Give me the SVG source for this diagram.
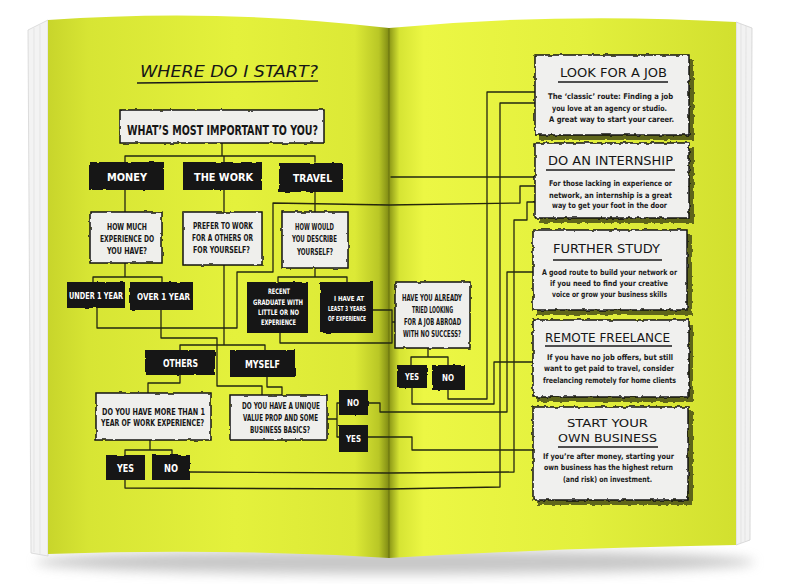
<svg xmlns="http://www.w3.org/2000/svg" width="790" height="584" viewBox="0 0 790 584">
<defs>
<linearGradient id="lp" x1="0" y1="0" x2="1" y2="0">
<stop offset="0" stop-color="#c8d52b"/><stop offset="0.12" stop-color="#d7e534"/><stop offset="0.55" stop-color="#e4f13c"/><stop offset="0.9" stop-color="#dce936"/><stop offset="0.97" stop-color="#b9c726"/><stop offset="1" stop-color="#7f8a14"/>
</linearGradient>
<linearGradient id="rp" x1="0" y1="0" x2="1" y2="0">
<stop offset="0" stop-color="#8a9616"/><stop offset="0.03" stop-color="#d6e434"/><stop offset="0.1" stop-color="#ecf744"/><stop offset="0.55" stop-color="#e3f03d"/><stop offset="1" stop-color="#d2e02f"/>
</linearGradient>
<filter id="blur" x="-20%" y="-50%" width="140%" height="200%"><feGaussianBlur stdDeviation="6"/></filter>
<filter id="rough" x="-6%" y="-15%" width="112%" height="130%"><feTurbulence type="fractalNoise" baseFrequency="0.12" numOctaves="2" seed="4"/><feDisplacementMap in="SourceGraphic" scale="2.6" xChannelSelector="R" yChannelSelector="G"/></filter>
<filter id="wavy" x="-6%" y="-10%" width="112%" height="120%"><feTurbulence type="fractalNoise" baseFrequency="0.22" numOctaves="1" seed="7"/><feDisplacementMap in="SourceGraphic" scale="4" xChannelSelector="R" yChannelSelector="G"/></filter>
<filter id="wob" x="-2%" y="-2%" width="104%" height="104%"><feTurbulence type="fractalNoise" baseFrequency="0.04" numOctaves="1" seed="2"/><feDisplacementMap in="SourceGraphic" scale="1.4" xChannelSelector="R" yChannelSelector="G"/></filter>
<style>
.ln{fill:none;stroke:#25270c;stroke-width:1.3;stroke-linejoin:round;stroke-linecap:round}
.bb{fill:#171717}
.wb{fill:#efefec;stroke:#141414;stroke-width:1.5}
.rb{fill:#f0f0ee;stroke:#141414;stroke-width:1.5}
.sh{fill:#4a5012;opacity:0.85}
.t{font-family:'DejaVu Sans Condensed','DejaVu Sans','Liberation Sans',sans-serif;font-weight:bold}
.h{font-family:'DejaVu Sans Condensed','DejaVu Sans','Liberation Sans',sans-serif;font-weight:normal;fill:#161616}
.w{fill:#ffffff}
.k{fill:#161616}
.b{font-family:'DejaVu Sans Condensed','DejaVu Sans','Liberation Sans',sans-serif;fill:#1a1a1a;font-size:7.8px;font-weight:bold}
.ul{stroke:#1a1a1a;stroke-width:1.5;fill:none}
</style>
</defs>

<!-- background and book -->
<rect x="0" y="0" width="790" height="584" fill="#ffffff"/>
<ellipse cx="395" cy="562" rx="360" ry="12" fill="#9a9a9a" opacity="0.55" filter="url(#blur)"/>
<g id="book">
<path d="M28,30 L48,20 L48,556 L31,553 Z" fill="#f3f3f3" stroke="#d4d4d4" stroke-width="0.8"/>
<path d="M34,28 L34,552 M40,25 L40,554" stroke="#dcdcdc" stroke-width="0.6"/>
<path d="M736,22 L752,28 L750,540 L736,545 Z" fill="#f2f2f2" stroke="#d0d0d0" stroke-width="0.8"/>
<path d="M741,24 L741,543 M746,26 L745,541" stroke="#d8d8d8" stroke-width="0.6"/>
<path d="M48,20 Q220,8 389,28 L389,558 Q220,548 48,554 Z" fill="url(#lp)"/>
<path d="M389,28 Q560,12 736,22 L736,545 Q560,548 389,558 Z" fill="url(#rp)"/>
<path d="M389,28 L389,558" stroke="#6d7710" stroke-width="1.2"/>
</g>

<!-- title -->
<g id="title">
<text class="h" x="140" y="77" font-size="15" font-style="italic" textLength="178" lengthAdjust="spacingAndGlyphs">WHERE DO I START?</text>
<path class="ul" d="M137,83 L318,81"/>
</g>

<!-- connectors -->
<g id="connectors" filter="url(#wob)">
<path class="ln" d="M222,143 V156 M125,162 V156 H315 V162 M224,156 V162"/>
<path class="ln" d="M125,190 V212 M224,190 V212 M315,192 V212"/>
<path class="ln" d="M125,263 V277 M93,282 V277 H162 V282"/>
<path class="ln" d="M315,268 V277 M278,282 V277 H347 V282"/>
<path class="ln" d="M97,308 V328 H237 V272 H273 V203 L389,205 L520,203 V186 H535"/>
<path class="ln" d="M161,310 V338 H217 V386 H262 V395"/>
<path class="ln" d="M224,265 V345 M180,350 V345 H265 V350"/>
<path class="ln" d="M180,375 V383 H148 V393"/>
<path class="ln" d="M267,377 V387 H282 V395"/>
<path class="ln" d="M150,440 V450 M125,455 V450 H172 V455"/>
<path class="ln" d="M327,419 H337 M339,403 H337 V437 H339"/>
<path class="ln" d="M280,333 V343 H392 V310 H373 M392,322 H395"/>
<path class="ln" d="M428,348 V357 M411,365 V357 H448 V365"/>
<path class="ln" d="M448,390 V399 H487 V92 H535"/>
<path class="ln" d="M125,480 V488 L389,489 L500,487 V103 H535"/>
<path class="ln" d="M391,177 H535"/>
<path class="ln" d="M190,472 L389,473 L514,472 V220 H527 V202 H535"/>
<path class="ln" d="M368,403 H380 V412 H507 V272 H533"/>
<path class="ln" d="M412,388 V404 H494 V362 H533"/>
<path class="ln" d="M368,437 H412 V450 H533"/>
</g>

<!-- left page nodes -->
<g id="n-main">
<rect class="wb" x="120" y="110" width="204" height="33" filter="url(#rough)"/>
<text class="t k" x="127" y="135" font-size="14" textLength="191" lengthAdjust="spacingAndGlyphs">WHAT’S MOST IMPORTANT TO YOU?</text>
</g>
<g id="n-money">
<rect class="bb" x="89" y="162" width="75" height="28" filter="url(#rough)"/>
<text class="t w" x="107" y="181" font-size="11" textLength="40" lengthAdjust="spacingAndGlyphs">MONEY</text>
</g>
<g id="n-work">
<rect class="bb" x="183" y="162" width="79" height="28" filter="url(#rough)"/>
<text class="t w" x="194" y="181" font-size="11" textLength="59" lengthAdjust="spacingAndGlyphs">THE WORK</text>
</g>
<g id="n-travel">
<rect class="bb" x="279" y="163" width="64" height="29" filter="url(#rough)"/>
<text class="t w" x="293" y="182" font-size="11" textLength="39" lengthAdjust="spacingAndGlyphs">TRAVEL</text>
</g>
<g id="n-howmuch">
<rect class="wb" x="90" y="212" width="72" height="51" filter="url(#rough)"/>
<text class="t k" x="107" y="230" font-size="9" textLength="40" lengthAdjust="spacingAndGlyphs">HOW MUCH</text>
<text class="t k" x="100" y="242" font-size="9" textLength="54" lengthAdjust="spacingAndGlyphs">EXPERIENCE DO</text>
<text class="t k" x="107" y="254" font-size="9" textLength="40" lengthAdjust="spacingAndGlyphs">YOU HAVE?</text>
</g>
<g id="n-prefer">
<rect class="wb" x="183" y="212" width="79" height="53" filter="url(#rough)"/>
<text class="t k" x="193" y="229" font-size="9" textLength="60" lengthAdjust="spacingAndGlyphs">PREFER TO WORK</text>
<text class="t k" x="192" y="241" font-size="9" textLength="61" lengthAdjust="spacingAndGlyphs">FOR A OTHERS OR</text>
<text class="t k" x="193" y="253" font-size="9" textLength="57" lengthAdjust="spacingAndGlyphs">FOR YOURSELF?</text>
</g>
<g id="n-howwould">
<rect class="wb" x="282" y="212" width="66" height="56" filter="url(#rough)"/>
<text class="t k" x="295" y="230" font-size="9" textLength="39" lengthAdjust="spacingAndGlyphs">HOW WOULD</text>
<text class="t k" x="292" y="242" font-size="9" textLength="45" lengthAdjust="spacingAndGlyphs">YOU DESCRIBE</text>
<text class="t k" x="297" y="255" font-size="9" textLength="36" lengthAdjust="spacingAndGlyphs">YOURSELF?</text>
</g>
<g id="n-under1">
<rect class="bb" x="67" y="282" width="58" height="26" filter="url(#rough)"/>
<text class="t w" x="69" y="299" font-size="9.5" textLength="54" lengthAdjust="spacingAndGlyphs">UNDER 1 YEAR</text>
</g>
<g id="n-over1">
<rect class="bb" x="130" y="282" width="63" height="28" filter="url(#rough)"/>
<text class="t w" x="137" y="300" font-size="9.5" textLength="53" lengthAdjust="spacingAndGlyphs">OVER 1 YEAR</text>
</g>
<g id="n-recent">
<rect class="bb" x="247" y="282" width="61" height="51" filter="url(#rough)"/>
<text class="t w" x="268" y="294" font-size="7.5" textLength="22" lengthAdjust="spacingAndGlyphs">RECENT</text>
<text class="t w" x="253" y="305" font-size="7.5" textLength="50" lengthAdjust="spacingAndGlyphs">GRADUATE WITH</text>
<text class="t w" x="258" y="315" font-size="7.5" textLength="41" lengthAdjust="spacingAndGlyphs">LITTLE OR NO</text>
<text class="t w" x="261" y="325" font-size="7.5" textLength="35" lengthAdjust="spacingAndGlyphs">EXPERIENCE</text>
</g>
<g id="n-3years">
<rect class="bb" x="320" y="282" width="53" height="51" filter="url(#rough)"/>
<text class="t w" x="334" y="301" font-size="7" textLength="30" lengthAdjust="spacingAndGlyphs">I HAVE AT</text>
<text class="t w" x="328" y="311" font-size="7" textLength="38" lengthAdjust="spacingAndGlyphs">LEAST 3 YEARS</text>
<text class="t w" x="328" y="321" font-size="7" textLength="38" lengthAdjust="spacingAndGlyphs">OF EXPERIENCE</text>
</g>
<g id="n-others">
<rect class="bb" x="145" y="350" width="70" height="25" filter="url(#rough)"/>
<text class="t w" x="163" y="367" font-size="11" textLength="35" lengthAdjust="spacingAndGlyphs">OTHERS</text>
</g>
<g id="n-myself">
<rect class="bb" x="230" y="350" width="65" height="27" filter="url(#rough)"/>
<text class="t w" x="245" y="368" font-size="11" textLength="35" lengthAdjust="spacingAndGlyphs">MYSELF</text>
</g>
<g id="n-more1">
<rect class="wb" x="96" y="393" width="115" height="47" filter="url(#rough)"/>
<text class="t k" x="102" y="415" font-size="9" textLength="103" lengthAdjust="spacingAndGlyphs">DO YOU HAVE MORE THAN 1</text>
<text class="t k" x="101" y="426" font-size="9" textLength="103" lengthAdjust="spacingAndGlyphs">YEAR OF WORK EXPERIENCE?</text>
</g>
<g id="n-unique">
<rect class="wb" x="230" y="395" width="97" height="45" filter="url(#rough)"/>
<text class="t k" x="242" y="409" font-size="8.5" textLength="78" lengthAdjust="spacingAndGlyphs">DO YOU HAVE A UNIQUE</text>
<text class="t k" x="243" y="421" font-size="8.5" textLength="75" lengthAdjust="spacingAndGlyphs">VALUE PROP AND SOME</text>
<text class="t k" x="250" y="433" font-size="8.5" textLength="60" lengthAdjust="spacingAndGlyphs">BUSINESS BASICS?</text>
</g>
<g id="n-vp-no">
<rect class="bb" x="339" y="390" width="29" height="25" filter="url(#rough)"/>
<text class="t w" x="347" y="406" font-size="9" textLength="12" lengthAdjust="spacingAndGlyphs">NO</text>
</g>
<g id="n-vp-yes">
<rect class="bb" x="339" y="425" width="29" height="27" filter="url(#rough)"/>
<text class="t w" x="346" y="442" font-size="9" textLength="15" lengthAdjust="spacingAndGlyphs">YES</text>
</g>
<g id="n-more-yes">
<rect class="bb" x="106" y="455" width="39" height="25" filter="url(#rough)"/>
<text class="t w" x="117" y="472" font-size="10" textLength="17" lengthAdjust="spacingAndGlyphs">YES</text>
</g>
<g id="n-more-no">
<rect class="bb" x="152" y="455" width="38" height="25" filter="url(#rough)"/>
<text class="t w" x="164" y="472" font-size="10" textLength="14" lengthAdjust="spacingAndGlyphs">NO</text>
</g>

<!-- right page middle -->
<g id="n-abroad">
<rect class="wb" x="395" y="282" width="75" height="66" filter="url(#rough)"/>
<text class="t k" x="402" y="301" font-size="8" textLength="60" lengthAdjust="spacingAndGlyphs">HAVE YOU ALREADY</text>
<text class="t k" x="412" y="313" font-size="8" textLength="41" lengthAdjust="spacingAndGlyphs">TRIED LOOKING</text>
<text class="t k" x="404" y="325" font-size="8" textLength="57" lengthAdjust="spacingAndGlyphs">FOR A JOB ABROAD</text>
<text class="t k" x="403" y="337" font-size="8" textLength="58" lengthAdjust="spacingAndGlyphs">WITH NO SUCCESS?</text>
</g>
<g id="n-ab-yes">
<rect class="bb" x="397" y="365" width="30" height="23" filter="url(#rough)"/>
<text class="t w" x="405" y="380" font-size="9" textLength="14" lengthAdjust="spacingAndGlyphs">YES</text>
</g>
<g id="n-ab-no">
<rect class="bb" x="432" y="365" width="33" height="25" filter="url(#rough)"/>
<text class="t w" x="442" y="381" font-size="9" textLength="12" lengthAdjust="spacingAndGlyphs">NO</text>
</g>

<!-- right page outcomes -->
<g id="o-job">
<rect class="sh" x="539" y="59" width="155" height="81" filter="url(#wavy)"/>
<rect class="rb" x="535" y="55" width="154" height="80" filter="url(#wavy)"/>
<text class="h" x="560" y="77" font-size="12.5" textLength="107" lengthAdjust="spacingAndGlyphs">LOOK FOR A JOB</text>
<path class="ul" d="M558,82 L668,82"/>
<text class="b" x="548" y="99" textLength="125" lengthAdjust="spacingAndGlyphs">The ‘classic’ route: Finding a job</text>
<text class="b" x="552" y="111" textLength="115" lengthAdjust="spacingAndGlyphs">you love at an agency or studio.</text>
<text class="b" x="549" y="122" textLength="125" lengthAdjust="spacingAndGlyphs">A great way to start your career.</text>
</g>
<g id="o-intern">
<rect class="sh" x="539" y="147" width="155" height="76" filter="url(#wavy)"/>
<rect class="rb" x="535" y="143" width="154" height="75" filter="url(#wavy)"/>
<text class="h" x="548" y="165" font-size="12.5" textLength="125" lengthAdjust="spacingAndGlyphs">DO AN INTERNSHIP</text>
<path class="ul" d="M546,170 L675,170"/>
<text class="b" x="549" y="186" textLength="123" lengthAdjust="spacingAndGlyphs">For those lacking in experience or</text>
<text class="b" x="549" y="198" textLength="123" lengthAdjust="spacingAndGlyphs">network, an internship is a great</text>
<text class="b" x="552" y="208" textLength="115" lengthAdjust="spacingAndGlyphs">way to get your foot in the door</text>
</g>
<g id="o-study">
<rect class="sh" x="537" y="234" width="155" height="81" filter="url(#wavy)"/>
<rect class="rb" x="533" y="230" width="154" height="80" filter="url(#wavy)"/>
<text class="h" x="553" y="253" font-size="12.5" textLength="107" lengthAdjust="spacingAndGlyphs">FURTHER STUDY</text>
<path class="ul" d="M553,260 L662,260"/>
<text class="b" x="542" y="275" textLength="135" lengthAdjust="spacingAndGlyphs">A good route to build your network or</text>
<text class="b" x="550" y="286" textLength="118" lengthAdjust="spacingAndGlyphs">if you need to find your creative</text>
<text class="b" x="552" y="297" textLength="115" lengthAdjust="spacingAndGlyphs">voice or grow your business skills</text>
</g>
<g id="o-remote">
<rect class="sh" x="537" y="324" width="156" height="78" filter="url(#wavy)"/>
<rect class="rb" x="533" y="320" width="156" height="77" filter="url(#wavy)"/>
<text class="h" x="545" y="342" font-size="12.5" textLength="125" lengthAdjust="spacingAndGlyphs">REMOTE FREELANCE</text>
<path class="ul" d="M545,346 L672,346"/>
<text class="b" x="547" y="360" textLength="126" lengthAdjust="spacingAndGlyphs">If you have no job offers, but still</text>
<text class="b" x="544" y="371" textLength="130" lengthAdjust="spacingAndGlyphs">want to get paid to travel, consider</text>
<text class="b" x="543" y="383" textLength="133" lengthAdjust="spacingAndGlyphs">freelancing remotely for home clients</text>
</g>
<g id="o-business">
<rect class="sh" x="537" y="411" width="156" height="94" filter="url(#wavy)"/>
<rect class="rb" x="533" y="407" width="155" height="93" filter="url(#wavy)"/>
<text class="h" x="567" y="427" font-size="11" textLength="81" lengthAdjust="spacingAndGlyphs">START YOUR</text>
<text class="h" x="558" y="442" font-size="11" textLength="99" lengthAdjust="spacingAndGlyphs">OWN BUSINESS</text>
<path class="ul" d="M558,447 L658,447"/>
<text class="b" x="543" y="459" textLength="131" lengthAdjust="spacingAndGlyphs">If you’re after money, starting your</text>
<text class="b" x="544" y="470" textLength="129" lengthAdjust="spacingAndGlyphs">own business has the highest return</text>
<text class="b" x="563" y="482" textLength="89" lengthAdjust="spacingAndGlyphs">(and risk) on investment.</text>
</g>
</svg>
